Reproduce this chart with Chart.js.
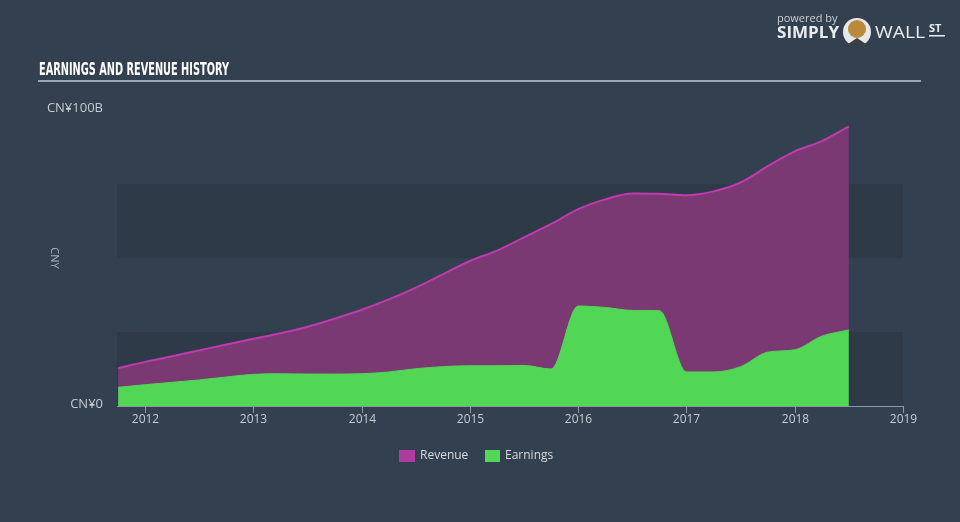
<!DOCTYPE html>
<html>
<head>
<meta charset="utf-8">
<style>
  html, body { margin: 0; padding: 0; background: #334050; }
  #wrap { width: 960px; height: 522px; position: relative; }
</style>
<script src="https://cdn.jsdelivr.net/npm/chart.js@4.4.0/dist/chart.umd.min.js"></script>
</head>
<body>
<div id="wrap"><canvas id="chart" width="960" height="522"></canvas></div>
<script>
// quarterly dates as decimal years
const dates = [
  2011.75, 2012.0, 2012.25, 2012.5, 2012.75, 2013.0, 2013.25, 2013.5, 2013.75,
  2014.0, 2014.25, 2014.5, 2014.75, 2015.0, 2015.25, 2015.5, 2015.75,
  2016.0, 2016.25, 2016.5, 2016.75, 2017.0, 2017.25, 2017.5, 2017.75,
  2018.0, 2018.25, 2018.5
];
// CN¥ billions
const revenue = [
  12.8, 14.9, 16.8, 18.8, 20.8, 22.7, 24.6, 26.8, 29.5,
  32.5, 36.0, 40.0, 44.5, 49.0, 52.5, 57.0, 61.5,
  66.5, 69.8, 71.8, 71.7, 71.2, 72.5, 75.5, 81.0,
  86.0, 89.5, 94.5
];
const earnings = [
  6.3, 7.2, 8.0, 8.8, 9.8, 10.7, 10.9, 10.8, 10.8,
  10.9, 11.5, 12.6, 13.3, 13.6, 13.6, 13.7, 12.5,
  33.8, 33.3, 32.3, 32.2, 11.5, 11.5, 13.3, 18.2,
  19.0, 23.6, 25.7
];
const yearTicks = [2012, 2013, 2014, 2015, 2016, 2017, 2018, 2019];
const yLabels = [{ v: 100, text: 'CN¥100B' }, { v: 0, text: 'CN¥0' }];
const bands = [[50, 75], [0, 25]];

const toPts = arr => arr.map((v, i) => ({ x: dates[i], y: v }));

const font = '"Open Sans", "DejaVu Sans", sans-serif';

// draw text squeezed/stretched to a given width
function fitText(ctx, text, x, y, width) {
  const w = ctx.measureText(text).width;
  ctx.save();
  ctx.translate(x, y);
  ctx.scale(width / w, 1);
  ctx.fillText(text, 0, 0);
  ctx.restore();
}

const decor = {
  id: 'decor',
  beforeDatasetsDraw(chart) {
    const { ctx, chartArea: a, scales: { y } } = chart;
    ctx.save();
    ctx.fillStyle = '#2e3a48';
    bands.forEach(([lo, hi]) => {
      const t = y.getPixelForValue(hi), b = y.getPixelForValue(lo);
      ctx.fillRect(a.left, t, a.right - a.left, b - t);
    });
    ctx.restore();
  },
  afterDraw(chart) {
    const { ctx, chartArea: a, scales: { x, y } } = chart;
    ctx.save();

    // title
    ctx.fillStyle = '#ffffff';
    ctx.font = 'bold 17px "DejaVu Sans", sans-serif';
    ctx.textBaseline = 'alphabetic';
    ctx.textAlign = 'left';
    fitText(ctx, 'EARNINGS AND REVENUE HISTORY', 39, 75, 190);
    ctx.fillStyle = '#9ea5ae';
    ctx.fillRect(38, 80, 883, 2);

    // x axis
    ctx.strokeStyle = '#8e98a4';
    ctx.lineWidth = 1;
    ctx.beginPath();
    ctx.moveTo(a.left, a.bottom + 0.5);
    ctx.lineTo(a.right, a.bottom + 0.5);
    ctx.stroke();
    ctx.fillStyle = '#c6cbd2';
    ctx.font = '12px ' + font;
    ctx.textAlign = 'center';
    ctx.textBaseline = 'top';
    yearTicks.forEach(t => {
      const px = Math.round(x.getPixelForValue(t)) + 0.5;
      ctx.beginPath();
      ctx.moveTo(px, a.bottom);
      ctx.lineTo(px, a.bottom + 7);
      ctx.stroke();
      ctx.fillText(String(t), px, a.bottom + 8);
    });

    // y labels
    ctx.textAlign = 'right';
    ctx.textBaseline = 'middle';
    ctx.font = '13px ' + font;
    yLabels.forEach(l => {
      ctx.fillText(l.text, 103, y.getPixelForValue(l.v) - 2);
    });
    ctx.save();
    ctx.translate(54, 258);
    ctx.rotate(Math.PI / 2);
    ctx.textAlign = 'center';
    ctx.font = '11px ' + font;
    ctx.fillStyle = '#aab1ba';
    ctx.fillText('CNY', 0, 0);
    ctx.restore();

    // legend
    ctx.textAlign = 'left';
    ctx.textBaseline = 'middle';
    ctx.font = '12px ' + font;
    ctx.fillStyle = '#b03b9e';
    ctx.fillRect(399, 450, 16, 12);
    ctx.fillStyle = '#d6dae0';
    ctx.fillText('Revenue', 420, 456);
    ctx.fillStyle = '#52d655';
    ctx.fillRect(485, 450, 15, 12);
    ctx.fillStyle = '#d6dae0';
    ctx.fillText('Earnings', 505, 456);

    // branding
    ctx.fillStyle = '#c9ced5';
    ctx.font = '11px ' + font;
    ctx.textBaseline = 'alphabetic';
    ctx.fillText('powered by', 777, 22);
    ctx.fillStyle = '#e9ecef';
    ctx.font = 'bold 16px ' + font;
    fitText(ctx, 'SIMPLY', 777, 38, 62);
    ctx.beginPath();
    ctx.arc(857, 32, 14, 0, Math.PI * 2);
    ctx.fillStyle = '#e6e8ea';
    ctx.fill();
    ctx.beginPath();
    ctx.arc(857, 29, 9, 0, Math.PI * 2);
    ctx.fillStyle = '#b98a3c';
    ctx.fill();
    ctx.beginPath();
    ctx.moveTo(845, 46);
    ctx.lineTo(857, 38);
    ctx.lineTo(869, 46);
    ctx.closePath();
    ctx.fillStyle = '#3b3f45';
    ctx.fill();
    ctx.fillStyle = '#e9ecef';
    ctx.font = '16px ' + font;
    fitText(ctx, 'WALL', 875, 38, 50);
    ctx.font = 'bold 11px ' + font;
    ctx.fillText('ST', 929, 32);
    ctx.fillRect(929, 35, 16, 1.5);

    ctx.restore();
  }
};

new Chart(document.getElementById('chart'), {
  type: 'line',
  data: {
    datasets: [
      {
        label: 'Earnings',
        data: toPts(earnings),
        borderColor: '#52d655',
        backgroundColor: '#52d655',
        borderWidth: 1,
        fill: 'origin',
        pointRadius: 0,
        cubicInterpolationMode: 'monotone'
      },
      {
        label: 'Revenue',
        data: toPts(revenue),
        borderColor: '#c13ab0',
        backgroundColor: '#7b3974',
        borderWidth: 2,
        fill: 'origin',
        pointRadius: 0,
        cubicInterpolationMode: 'monotone'
      }
    ]
  },
  options: {
    responsive: false,
    animation: false,
    layout: { padding: { left: 117, right: 57, top: 110, bottom: 116 } },
    plugins: { legend: { display: false }, tooltip: { enabled: false } },
    scales: {
      x: { type: 'linear', min: 2011.74, max: 2019, display: false },
      y: { min: 0, max: 100, display: false }
    }
  },
  plugins: [decor]
});
</script>
</body>
</html>
